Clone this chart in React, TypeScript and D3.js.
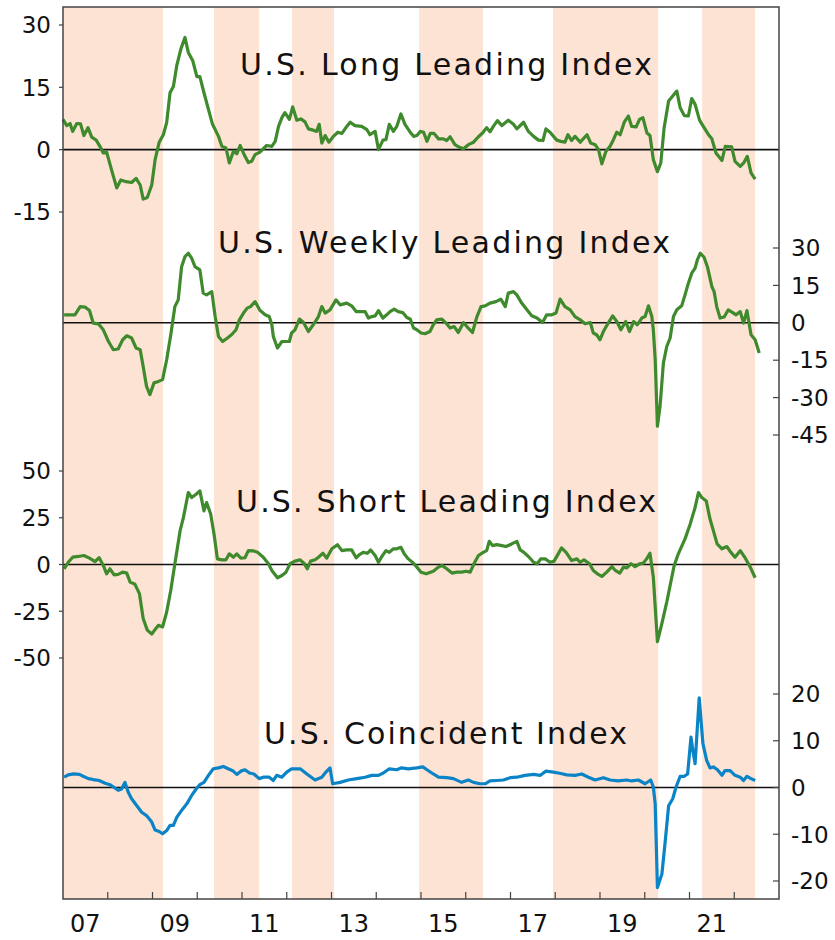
import React from "react";
import * as d3 from "d3";

const WIDTH = 835;
const HEIGHT = 940;
const LEFT = 63;
const RIGHT = 779;
const TOP = 7;
const BOTTOM = 899;
const FONT = "'DejaVu Sans', sans-serif";

// x values are months since Jan 2007
const shadedPeriods: [number, number][] = [
  [0, 26.8], [40.5, 52.6], [61.4, 72.7], [95.5, 112.6], [131.4, 159.6], [171.4, 185.6],
];
const yearLabels = ["07", "09", "11", "13", "15", "17", "19", "21"];

const longLeading: [number, number][] = [
  [0, 7.3], [1, 5.8], [1.9, 6.3], [2.6, 4.4], [3.7, 6.3], [4.7, 6.2], [5.6, 3.4], [6.7, 5.3], [7.7, 3.0],
  [8.9, 2.3], [9.9, 0.8], [10.8, -0.8], [11.7, -0.6], [13, -4.8], [14.4, -9.2], [15.5, -7.3], [16.9, -7.7],
  [18.4, -7.9], [19.6, -6.9], [20.7, -8.5], [21.5, -11.9], [22.6, -11.5], [23.8, -8.5], [24.7, -2.4],
  [25.8, 1.8], [26.9, 3.6], [27.8, 6.5], [28.7, 13.7], [29.6, 15.2], [30.5, 20.2], [31.6, 24.2], [32.7, 27.0],
  [33.6, 23.4], [34.8, 21.4], [35.9, 17.6], [36.7, 17.6], [37.8, 13.7], [39, 9.7], [40.1, 6.1], [41.7, 3.2],
  [42.6, 0.8], [43.7, 0.4], [44.6, -3.2], [45.7, -0.4], [46.6, -1.0], [47.5, 1.0], [48.8, -1.6], [49.7, -3.1],
  [50.6, -2.8], [51.5, -1.2], [52.8, -0.6], [54.6, 1.0], [56, 0.8], [56.9, 2.0], [57.8, 5.6], [58.7, 7.7],
  [59.5, 8.9], [60.7, 7.3], [61.6, 10.3], [62.7, 7.1], [63.8, 7.4], [64.9, 6.7], [65.8, 5.0], [67.1, 4.7],
  [68, 4.4], [68.7, 6.1], [69.4, 1.6], [70.3, 3.4], [71.3, 1.8], [72.5, 3.2], [73.7, 4.2], [74.8, 3.9],
  [76.1, 5.6], [77, 6.6], [78.3, 5.8], [80.1, 5.6], [81.5, 4.8], [82.3, 3.6], [83.7, 4.4], [84.6, 0],
  [85.8, 2.3], [86.6, 2.4], [87.5, 6.1], [88.6, 4.4], [89.5, 5.6], [90.6, 8.6], [91.7, 6.1], [93.1, 4.2],
  [94, 3.2], [94.9, 3.4], [95.8, 4.4], [96.7, 4.2], [97.6, 2.0], [98.5, 3.9], [99.5, 3.9], [100.7, 2.6],
  [102, 2.6], [102.9, 2.2], [103.8, 3.1], [105.1, 1.2], [106, 0.7], [107.4, 0.2], [108.7, 1.2], [110.1, 1.8],
  [111.4, 3.1], [112.5, 4.0], [113.6, 5.3], [114.5, 4.3], [115.4, 5.6], [116.5, 7.0], [117.7, 5.8],
  [119.4, 7.1], [120.8, 6.1], [121.7, 5.0], [123.5, 6.6], [124.8, 4.4], [126.2, 3.2], [127.5, 2.3],
  [128.7, 2.2], [129.5, 5.0], [130.6, 4.2], [132.4, 2.3], [133.5, 2.0], [134.6, 1.8], [135.4, 3.6],
  [136.4, 2.2], [137.3, 3.2], [138.7, 1.8], [140.5, 3.6], [141.5, 1.6], [142.7, 1.2], [143.6, 0],
  [144.5, -3.4], [145.6, -0.4], [146.7, 0.8], [147.6, 2.4], [148.5, 4.2], [149.4, 3.6], [150.5, 6.6],
  [151.6, 8.1], [152.5, 5.6], [153.7, 5.5], [154.6, 7.3], [155.5, 7.7], [156.6, 4.0], [157.4, 3.4],
  [158.3, -2.4], [159.4, -5.3], [160.3, -3.2], [161.2, 5.3], [162.4, 11.7], [163.5, 12.9], [164.6, 14.1],
  [165.5, 10.1], [166.6, 8.2], [167.7, 8.1], [168.6, 12.3], [169.5, 10.9], [170.7, 7.1], [171.7, 5.6],
  [173.1, 3.6], [174, 2.6], [175.1, -0.8], [176.7, -2.6], [177.6, 0.8], [179.3, 0.7], [180.2, -2.8],
  [181.6, -4.0], [182.6, -3.1], [183.5, -1.6], [184.5, -5.6], [185.6, -7.1],
];

const weeklyLeading: [number, number][] = [
  [0.3, 3.2], [1.5, 3.2], [3.2, 3.2], [4.6, 6.5], [5.9, 6.3], [7.1, 4.9], [8.1, -0.1], [9.5, -0.4],
  [10.8, -2.8], [12.2, -7.5], [13.5, -10.8], [14.8, -10.5], [16, -6.8], [17.1, -5.2], [18.4, -6.1],
  [19.6, -10.1], [20.7, -10.8], [21.5, -17.5], [22.4, -25.5], [23.3, -28.8], [24.4, -24.1], [25.6, -23.5],
  [26.7, -22.8], [27.8, -14.8], [28.9, -4.8], [30, 6.5], [30.9, 9.2], [31.8, 22.5], [32.7, 26.5],
  [33.6, 27.9], [34.5, 25.9], [35.4, 22.5], [36.7, 21.2], [37.6, 11.9], [38.5, 11.2], [39.9, 12.5],
  [40.8, 2.5], [41.7, -5.5], [42.8, -7.5], [44.1, -6.1], [45.2, -4.8], [46.4, -2.8], [47.3, 1.2],
  [48.4, 3.9], [49.4, 5.9], [50.3, 6.5], [51.5, 8.5], [52.8, 5.0], [54.2, 3.2], [55.3, 2.5], [56, -0.8],
  [56.4, -5.5], [57.5, -10.1], [58.7, -7.5], [59.8, -7.5], [60.7, -7.5], [61.3, -4.1], [62.2, -2.8],
  [63.4, 1.5], [64.5, 0.1], [65.8, -3.5], [67.1, -0.8], [68.5, 2.5], [69.4, 6.5], [70.3, 3.9], [71.6, 5.2],
  [73.2, 9.2], [74.3, 7.2], [76.1, 7.9], [77.4, 6.8], [78.6, 4.5], [79.7, 4.5], [81, 4.5], [81.9, 1.9],
  [82.8, 2.5], [83.7, 2.8], [84.6, 4.9], [85.8, 1.9], [86.8, 3.2], [87.7, 4.5], [88.8, 5.5], [89.9, 4.5],
  [91.1, 4.1], [92.2, 2.1], [93.1, 1.5], [94, -2.1], [94.9, -2.8], [96, -4.1], [97.1, -4.4], [98.4, -3.5],
  [99.3, -0.8], [100.2, 1.2], [101.6, 1.5], [102.9, -0.4], [103.8, -2.1], [104.9, -1.5], [106, -3.9],
  [107.4, 0.1], [108.3, -1.5], [109.8, -3.9], [111, 2.5], [112.1, 6.5], [113.2, 6.8], [114.5, 7.9],
  [116.1, 8.5], [117.4, 9.5], [118.6, 6.5], [119.4, 11.9], [120.8, 12.5], [121.7, 11.2], [123, 7.9],
  [124.4, 5.2], [125.7, 2.8], [127.1, 1.9], [128.6, 0.1], [129.7, 3.2], [131.1, 3.2], [132.2, 3.9],
  [133.3, 9.5], [134.6, 6.5], [136, 5.2], [137.3, 2.5], [138.7, 1.2], [140, -0.4], [141.4, 0.1],
  [142.2, -4.1], [143.1, -4.8], [144, -6.8], [144.9, -3.5], [146.2, -0.1], [147.4, 2.8], [148.5, 0.5],
  [149.6, -2.8], [150.9, 0.5], [151.9, -3.5], [153, 0.5], [154, -0.8], [155.2, 1.9], [156.1, 2.5],
  [157, 6.8], [157.9, 2.5], [158.3, -2.8], [158.8, -14.8], [159.4, -41.5], [160.1, -33.5], [161, -16.1],
  [161.9, -9.5], [162.8, -6.1], [163.7, 2.5], [164.6, 5.2], [165.9, 6.8], [166.8, 11.2], [167.7, 15.9],
  [168.6, 19.9], [169.5, 21.9], [170.1, 25.2], [170.9, 27.9], [171.9, 26.3], [172.8, 22.5], [174, 14.5],
  [174.6, 12.5], [175.3, 6.5], [176.2, 1.9], [177.3, 2.3], [178.4, 5.2], [179.6, 4.1], [180.5, 3.2],
  [181.6, 4.5], [182.5, -0.1], [183.4, 4.9], [184.5, -4.8], [185.6, -6.8], [186.7, -12.1],
];

const shortLeading: [number, number][] = [
  [0.3, -2.3], [1.4, 1.2], [2.6, 3.9], [4.1, 4.3], [5.6, 4.8], [7.1, 3.4], [8.6, 1.6], [9.7, 3.6],
  [10.8, -0.5], [11.7, -5.0], [12.6, -2.3], [13.7, -5.5], [14.8, -5.3], [16, -4.1], [17.1, -4.6],
  [18, -9.4], [19.3, -10.6], [20.5, -15.6], [21.5, -28.9], [22.6, -35.1], [23.8, -37.2], [24.7, -34.7],
  [25.6, -32.5], [26.7, -33.4], [27.8, -25.4], [28.9, -13.8], [30, 0.4], [31.4, 18.1], [32.3, 25.2],
  [33.6, 38.5], [34.5, 35.8], [35.7, 37.6], [36.7, 39.4], [37.8, 28.7], [38.5, 33.1], [39.6, 27.0],
  [40.5, 16.3], [41.4, 3.0], [42.6, 2.5], [43.7, 2.5], [44.6, 5.7], [45.7, 3.9], [46.6, 5.7], [47.7, 3.4],
  [48.8, 3.6], [49.7, 7.4], [51, 7.3], [52.2, 6.5], [53.7, 3.9], [55.1, 0.4], [56, -3.2], [57.5, -7.1],
  [58.7, -5.9], [59.8, -4.1], [60.9, 0.4], [62.2, 1.8], [63.6, 2.5], [64.6, 0.7], [65.5, -2.3], [66.4, 1.8],
  [67.6, 2.5], [68.5, 3.9], [69.7, 6.0], [70.7, 3.4], [72.1, 8.4], [73.6, 10.6], [74.8, 7.4], [76.1, 7.8],
  [77.4, 7.8], [78.6, 3.6], [79.5, 5.3], [80.5, 6.5], [81.6, 6.0], [82.5, 7.8], [83.7, 4.8], [84.6, 1.2],
  [85.5, 4.3], [86.6, 7.4], [87.5, 6.5], [88.6, 8.4], [89.5, 8.4], [90.6, 9.2], [91.5, 5.7], [92.6, 3.0],
  [94, 0.7], [94.9, -1.4], [96, -4.1], [97.4, -5.0], [99.3, -3.6], [100.7, -1.4], [101.6, -0.5],
  [102.9, -2.3], [104.3, -4.6], [105.6, -4.1], [106.9, -4.1], [108.1, -3.6], [109.2, -4.1], [110.2, 0.4],
  [111.4, 4.8], [112.7, 6.5], [113.6, 7.4], [114.3, 12.4], [115.2, 10.1], [116.3, 10.6], [117.7, 10.1],
  [118.8, 9.6], [120.3, 11.0], [121.7, 12.4], [122.6, 7.8], [123.6, 6.5], [124.8, 4.3], [126.2, 1.2],
  [127.2, 0.4], [128.1, 3.0], [129.3, 3.0], [130.6, 1.2], [131.7, 1.8], [132.8, 5.7], [133.7, 8.9],
  [134.9, 6.5], [136.4, 2.1], [137.8, 3.0], [138.7, 1.2], [139.7, 2.5], [141.2, 0.4], [142.2, -3.2],
  [143.3, -5.0], [144.5, -6.4], [145.8, -4.1], [147.2, -1.1], [148.1, -3.2], [149.3, -4.6], [150.3, -1.4],
  [151.2, -1.8], [152.3, 0.4], [153.4, -1.1], [154.7, 0.4], [155.6, 0.7], [156.5, 3.0], [157.4, 6.0],
  [158.3, -6.8], [159.4, -41.3], [160.6, -31.5], [161.9, -20.1], [162.8, -11.2], [163.9, -0.5], [165, 5.7],
  [166.8, 13.7], [168.2, 21.7], [169.5, 30.5], [170.4, 38.5], [171.3, 35.8], [172.5, 34.0], [173.5, 24.3],
  [174.4, 18.1], [175.4, 11.0], [176.7, 8.4], [178, 9.6], [179.1, 6.5], [180.2, 3.9], [181.6, 7.4],
  [182.9, 3.6], [184.3, -1.4], [185.6, -7.1],
];

const coincident: [number, number][] = [
  [0.3, 2.2], [1.4, 2.7], [2.8, 2.9], [4.4, 2.8], [5.4, 2.4], [6.8, 1.9], [8.1, 1.7], [9.7, 1.5],
  [11.3, 0.9], [12.6, 0.6], [13.9, -0.1], [14.8, -0.6], [15.7, -0.3], [16.6, 1.1], [17.5, -1.0],
  [18.4, -2.4], [19.8, -3.9], [21.1, -5.3], [22.4, -6.0], [23.8, -7.4], [24.7, -9.1], [25.8, -9.4],
  [26.7, -9.9], [27.8, -9.2], [28.7, -8.1], [29.6, -8.1], [30.5, -6.4], [31.8, -4.9], [33.2, -3.5],
  [34.5, -1.7], [35.9, -0.1], [36.7, 0.6], [37.8, 1.1], [39, 2.6], [40.3, 4.0], [41.7, 4.2], [43, 4.5],
  [44.3, 4.0], [45.5, 3.6], [46.6, 2.8], [47.7, 3.5], [48.8, 3.8], [50, 3.1], [51.2, 2.9], [52.6, 1.9],
  [53.7, 2.2], [55.3, 2.2], [56.4, 1.5], [57.3, 2.6], [58.7, 2.2], [60, 3.3], [61.3, 4.0], [63.6, 4.0],
  [65.4, 2.9], [67.6, 1.6], [69.4, 2.2], [70.5, 3.3], [71.6, 4.2], [72.3, 0.8], [74.3, 1.1], [76.5, 1.6],
  [78.8, 1.9], [81, 2.2], [82.8, 2.6], [84.6, 2.6], [85.9, 3.1], [87.5, 4.0], [89.5, 3.8], [90.8, 4.2],
  [92.6, 4.0], [94.9, 4.2], [96.5, 4.4], [97.6, 3.8], [98.9, 3.1], [100.7, 2.2], [102.9, 2.1],
  [104.7, 1.9], [106.9, 1.1], [108.7, 1.6], [110.1, 1.1], [111.8, 0.8], [113.2, 0.8], [114.5, 1.4],
  [116.3, 1.5], [118.1, 1.6], [119.9, 2.1], [121.7, 2.2], [123.9, 2.6], [126.2, 2.8], [128, 2.6],
  [129.5, 3.5], [131.5, 3.3], [133.5, 3.0], [135.1, 2.7], [137.3, 2.6], [139.1, 2.9], [140.9, 2.2],
  [142.7, 1.6], [144.9, 2.1], [146.7, 1.6], [148.9, 1.4], [151.2, 1.6], [152.5, 1.4], [154.3, 1.6],
  [156.1, 0.8], [157.6, 1.6], [158.3, 0.1], [158.8, -3.5], [159.4, -21.4], [160.6, -18.5], [161.5, -11.4],
  [162.4, -3.9], [163.5, -2.4], [164.4, 0.1], [165.5, 2.4], [166.6, 2.4], [167.5, 2.9], [168.4, 10.8],
  [168.9, 7.9], [169.5, 5.1], [170.6, 19.2], [171.6, 9.4], [172.6, 5.8], [173.5, 4.2], [174.4, 4.4],
  [175.5, 3.8], [176.7, 2.6], [177.5, 3.6], [178.9, 3.6], [180.2, 2.6], [181.6, 2.2], [182.5, 1.5],
  [183.4, 2.4], [184.5, 1.9], [185.6, 1.5],
];

const longTicks = [30, 15, 0, -15];
const weeklyTicks = [30, 15, 0, -15, -30, -45];
const shortTicks = [50, 25, 0, -25, -50];
const coincidentTicks = [20, 10, 0, -10, -20];

const GREEN = "#3f8a2d";
const BLUE = "#0a84c6";

const panels = [
  { title: "U.S. Long Leading Index", data: longLeading, domain: [-15, 30], range: [212, 25], ticks: longTicks, side: "left", color: GREEN, titleY: 75, titleX: 240, titleW: 412 },
  { title: "U.S. Weekly Leading Index", data: weeklyLeading, domain: [-45, 30], range: [435, 248], ticks: weeklyTicks, side: "right", color: GREEN, titleY: 253, titleX: 218, titleW: 452 },
  { title: "U.S. Short Leading Index", data: shortLeading, domain: [-50, 50], range: [658, 471], ticks: shortTicks, side: "left", color: GREEN, titleY: 512, titleX: 236, titleW: 420 },
  { title: "U.S. Coincident Index", data: coincident, domain: [-20, 20], range: [881, 694], ticks: coincidentTicks, side: "right", color: BLUE, titleY: 744, titleX: 264, titleW: 363 },
];

export default function App() {
  const x = d3.scaleLinear().domain([0, 192]).range([LEFT, RIGHT]);
  const yearTicks = d3.range(12, 192, 12);

  return (
    <div style={{ position: "absolute", left: 0, top: 0 }}>
      <svg width={WIDTH} height={HEIGHT} style={{ display: "block", fontFamily: FONT }}>
        <rect width={WIDTH} height={HEIGHT} fill="#fff" />
        {shadedPeriods.map(([a, b], i) => (
          <rect key={i} x={x(a)} y={TOP} width={x(b) - x(a)} height={BOTTOM - TOP} fill="#fce3d4" />
        ))}

        {panels.map((p, i) => {
          const y = d3.scaleLinear().domain(p.domain).range(p.range);
          const line = d3
            .line<[number, number]>()
            .x((d) => x(d[0]))
            .y((d) => y(d[1]));
          const axisX = p.side === "left" ? LEFT : RIGHT;
          return (
            <g key={i}>
              <line x1={LEFT} x2={RIGHT} y1={y(0)} y2={y(0)} stroke="#111" strokeWidth={1.6} />
              <text
                x={p.titleX}
                y={p.titleY}
                textLength={p.titleW}
                lengthAdjust="spacing"
                fontSize={30}
                fill="#111"
              >
                {p.title}
              </text>
              <path d={line(p.data) || ""} fill="none" stroke={p.color} strokeWidth={3.2} strokeLinejoin="round" />
              {p.ticks.map((t) => (
                <g key={t}>
                  <line
                    x1={axisX}
                    x2={p.side === "left" ? axisX - 4 : axisX - 6}
                    y1={y(t)}
                    y2={y(t)}
                    stroke="#444"
                    strokeWidth={1.2}
                  />
                  <text
                    x={p.side === "left" ? 51 : 791}
                    y={y(t)}
                    dy="0.36em"
                    textAnchor={p.side === "left" ? "end" : "start"}
                    fontSize={23}
                    fill="#111"
                  >
                    {t}
                  </text>
                </g>
              ))}
            </g>
          );
        })}

        {yearTicks.map((m) => (
          <line key={m} x1={x(m)} x2={x(m)} y1={BOTTOM} y2={BOTTOM - 7} stroke="#444" strokeWidth={1.2} />
        ))}
        {yearLabels.map((lab, i) => (
          <text key={lab} x={x(6 + i * 24)} y={932} textAnchor="middle" fontSize={24} fill="#111">
            {lab}
          </text>
        ))}

        <rect x={LEFT} y={TOP} width={RIGHT - LEFT} height={BOTTOM - TOP} fill="none" stroke="#444" strokeWidth={1.5} />
      </svg>
    </div>
  );
}
